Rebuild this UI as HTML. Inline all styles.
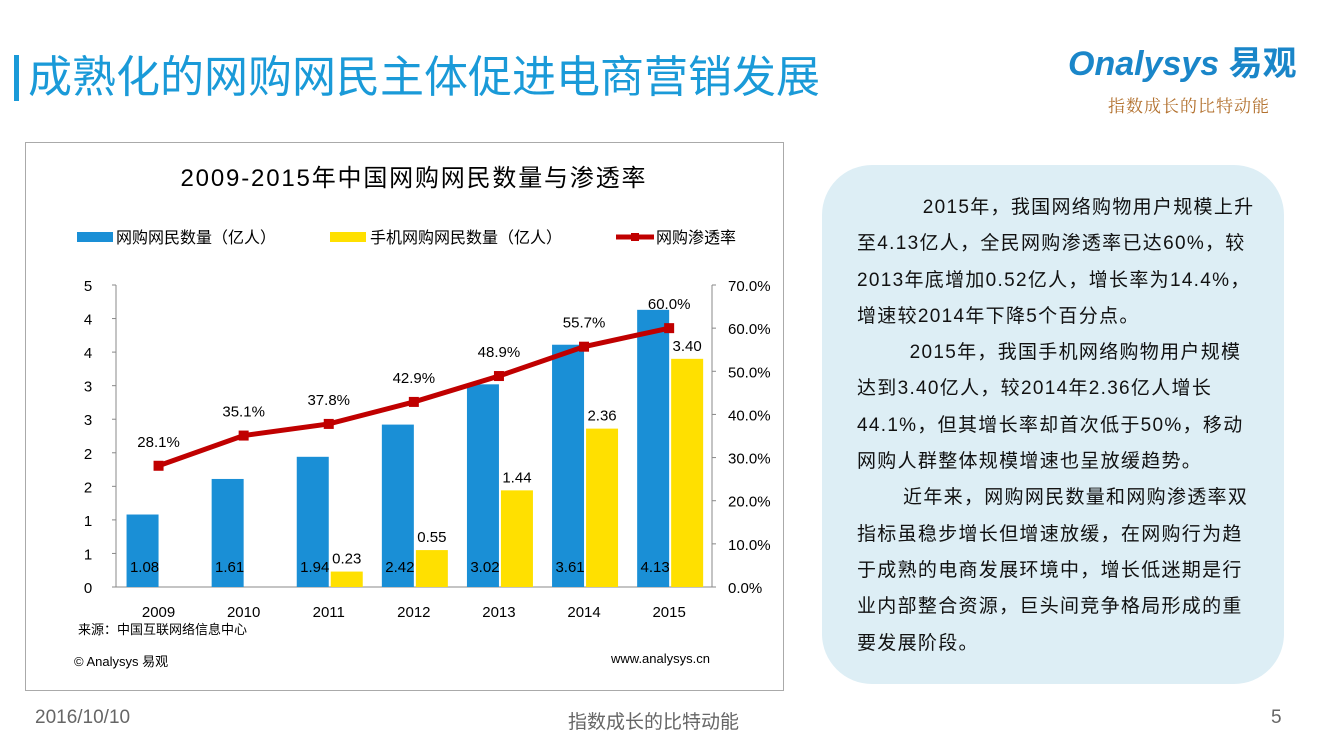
<!DOCTYPE html>
<html><head><meta charset="utf-8"><style>
body{margin:0;width:1320px;height:743px;background:#fff;position:relative;overflow:hidden;font-family:"Liberation Sans","Noto Sans CJK SC",sans-serif}
.abs{position:absolute}
</style></head><body>
<div class="abs" style="left:14px;top:55px;width:5px;height:46px;background:#1a9ad8"></div>
<div class="abs" style="left:28px;top:49px;font-size:44px;color:#1a9ad8;line-height:58px;white-space:nowrap">成熟化的网购网民主体促进电商营销发展</div>
<div class="abs" style="left:1068px;top:44px;font-size:34px;color:#1a86c9;font-weight:bold;font-style:italic;line-height:40px">Onalysys <span style="font-style:normal">易观</span></div>
<div class="abs" style="left:1108px;top:92px;font-size:17px;color:#b2702d;font-family:'Noto Serif CJK SC',serif;letter-spacing:1px">指数成长的比特动能</div>
<div class="abs" style="left:25px;top:142px;width:759px;height:549px;border:1px solid #aaa;box-sizing:border-box"></div>
<svg class="abs" style="left:0;top:0" width="800" height="700">
<text x="413" y="186" font-size="24" text-anchor="middle" fill="#000" textLength="465">2009-2015年中国网购网民数量与渗透率</text>
<g font-size="16">
<rect x="77" y="232" width="36" height="10" fill="#1a8fd6"/>
<text x="116" y="243">网购网民数量（亿人）</text>
<rect x="330" y="232" width="36" height="10" fill="#ffe000"/>
<text x="370" y="243">手机网购网民数量（亿人）</text>
<line x1="616" y1="237" x2="654" y2="237" stroke="#c00000" stroke-width="5"/>
<rect x="631" y="233" width="8" height="8" fill="#c00000"/>
<text x="656" y="243">网购渗透率</text>
</g>
<g id="plot"></g>
</svg>
<div class="abs" style="left:78px;top:619px;font-size:13px">来源：中国互联网络信息中心</div>
<div class="abs" style="left:74px;top:651px;font-size:13px">© Analysys 易观</div>
<div class="abs" style="left:611px;top:651px;font-size:13px">www.analysys.cn</div>
<div class="abs" style="left:822px;top:165px;width:462px;height:519px;background:#ddeef5;border-radius:50px"></div>
<div class="abs" style="left:857px;top:190px;width:420px;font-size:19px;line-height:36.3px;color:#111;white-space:nowrap;letter-spacing:1.3px">
&nbsp;&nbsp;&nbsp;&nbsp;&nbsp;&nbsp;&nbsp;&nbsp;&nbsp;&nbsp;2015年，我国网络购物用户规模上升<br>至4.13亿人，全民网购渗透率已达60%，较<br>2013年底增加0.52亿人，增长率为14.4%，<br>增速较2014年下降5个百分点。<br>
&nbsp;&nbsp;&nbsp;&nbsp;&nbsp;&nbsp;&nbsp;&nbsp;2015年，我国手机网络购物用户规模<br>达到3.40亿人，较2014年2.36亿人增长<br>44.1%，但其增长率却首次低于50%，移动<br>网购人群整体规模增速也呈放缓趋势。<br>
&nbsp;&nbsp;&nbsp;&nbsp;&nbsp;&nbsp;&nbsp;近年来，网购网民数量和网购渗透率双<br>指标虽稳步增长但增速放缓，在网购行为趋<br>于成熟的电商发展环境中，增长低迷期是行<br>业内部整合资源，巨头间竞争格局形成的重<br>要发展阶段。
</div>
<div class="abs" style="left:35px;top:707px;font-size:19px;color:#666">2016/10/10</div>
<div class="abs" style="left:568px;top:707px;font-size:19px;color:#666">指数成长的比特动能</div>
<div class="abs" style="left:1271px;top:707px;font-size:19px;color:#666">5</div>
<script>
const years=["2009","2010","2011","2012","2013","2014","2015"];
const users=[1.08,1.61,1.94,2.42,3.02,3.61,4.13];
const mobile=[null,null,0.23,0.55,1.44,2.36,3.40];
const rate=[28.1,35.1,37.8,42.9,48.9,55.7,60.0];
const leftTicks=[0,0.5,1,1.5,2,2.5,3,3.5,4,4.5];
const rightTicks=[0,10,20,30,40,50,60,70];
const NS="http://www.w3.org/2000/svg";
const g=document.getElementById('plot');
const y0=587,y1=285,xL=116,band=85.1;
const yL=v=>y0-(v/4.5)*(y0-y1);
const yR=v=>y0-(v/70)*(y0-y1);
const xC=i=>xL+band*(i+0.5);
function mk(t,a,txt){const e=document.createElementNS(NS,t);for(const k in a)e.setAttribute(k,a[k]);if(txt!=null)e.textContent=txt;g.appendChild(e);return e;}
let e;
e=mk('line',{x1:xL,y1:y1,x2:xL,y2:y0,stroke:'#888'});


e=mk('line',{x1:712,y1:y1,x2:712,y2:y0,stroke:'#888'});


e=mk('line',{x1:xL,y1:y0,x2:712,y2:y0,stroke:'#888'});


leftTicks.forEach(v=>{
 e=mk('text',{x:88,y:yL(v)+6,'font-size':15,'text-anchor':'middle'},Math.round(v));
 
 
 mk('line',{x1:xL-4,y1:yL(v),x2:xL,y2:yL(v),stroke:'#888'});
});
rightTicks.forEach(v=>{
 e=mk('text',{x:728,y:yR(v)+6,'font-size':15},v.toFixed(1)+'%');
 
 
 mk('line',{x1:712,y1:yR(v),x2:716,y2:yR(v),stroke:'#888'});
});
years.forEach((y,i)=>{
 const c=xC(i);
 e=mk('text',{x:c,y:617,'font-size':15,'text-anchor':'middle'},y);
 
 
 e=mk('rect',{x:c-32,y:yL(users[i]),width:32,height:y0-yL(users[i]),fill:'#1a8fd6'});
 
 
 e=mk('text',{x:c-14,y:572,'font-size':15,'text-anchor':'middle'},users[i].toFixed(2));
 
 
 if(mobile[i]!=null){
  e=mk('rect',{x:c+2,y:yL(mobile[i]),width:32,height:y0-yL(mobile[i]),fill:'#ffe000'});
  
  
  e=mk('text',{x:c+18,y:yL(mobile[i])-8,'font-size':15,'text-anchor':'middle'},mobile[i].toFixed(2));
  
  
 }
});
e=mk('polyline',{points:rate.map((v,i)=>xC(i)+','+yR(v)).join(' '),fill:'none',stroke:'#c00000','stroke-width':5});


rate.forEach((v,i)=>{
 e=mk('rect',{x:xC(i)-5,y:yR(v)-5,width:10,height:10,fill:'#c00000'});
 
 
 e=mk('text',{x:xC(i),y:yR(v)-19,'font-size':15,'text-anchor':'middle'},v.toFixed(1)+'%');
 
 
});
</script>
</body></html>
